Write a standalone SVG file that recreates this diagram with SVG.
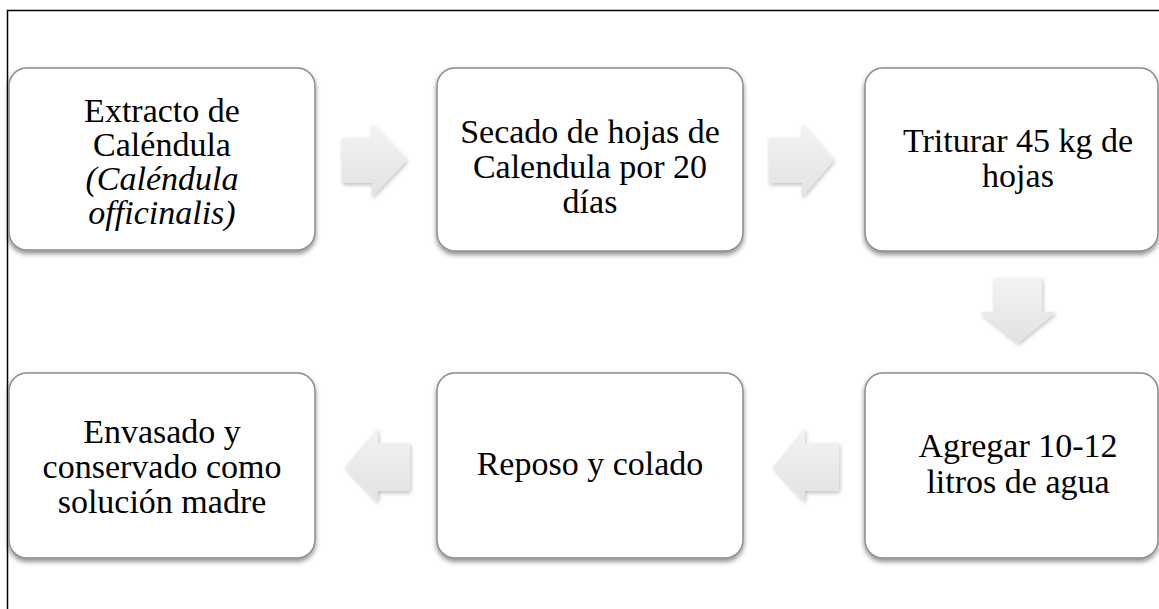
<svg xmlns="http://www.w3.org/2000/svg" width="1159" height="609" viewBox="0 0 1159 609">
<defs>
<filter id="sh" x="-10%" y="-10%" width="120%" height="130%">
<feGaussianBlur in="SourceAlpha" stdDeviation="2.5"/>
<feOffset dx="0" dy="3" result="b"/>
<feComponentTransfer><feFuncA type="linear" slope="0.45"/></feComponentTransfer>
<feMerge><feMergeNode/><feMergeNode in="SourceGraphic"/></feMerge>
</filter>
<filter id="ash" x="-20%" y="-20%" width="150%" height="150%">
<feGaussianBlur in="SourceAlpha" stdDeviation="2"/>
<feOffset dx="1" dy="2" result="b"/>
<feComponentTransfer><feFuncA type="linear" slope="0.25"/></feComponentTransfer>
<feMerge><feMergeNode/><feMergeNode in="SourceGraphic"/></feMerge>
</filter>
<linearGradient id="ag" x1="0" y1="0" x2="0" y2="1">
<stop offset="0" stop-color="#f3f3f3"/>
<stop offset="1" stop-color="#e2e2e2"/>
</linearGradient>
</defs>
<style>
.box{fill:#ffffff;stroke:#8c8c8c;stroke-width:1.5;filter:url(#sh)}
.arr{fill:url(#ag);filter:url(#ash)}
text{font-family:"Liberation Serif","Times New Roman",serif;font-size:34px;fill:#000;text-anchor:middle}
.it{font-style:italic}
</style>
<rect width="1159" height="609" fill="#ffffff"/>
<path d="M7.5 609 V10.5 H1159" fill="none" stroke="#000" stroke-width="1.5"/>

<g id="connectors">
<polygon class="arr" points="342,138 372,138 372,124 407,160 372,197 372,183 342,183"/>
<polygon class="arr" points="769,138 802,138 802,124 834,160 802,197 802,183 769,183"/>
<polygon class="arr" points="994,278 1042,278 1042,312 1056,312 1018,343 980,312 994,312"/>
<polygon class="arr" points="839,443 805,443 805,428 773,467 805,502 805,491 839,491"/>
<polygon class="arr" points="410,443 378,443 378,428 345,467 378,502 378,491 410,491"/>
</g>

<g id="n1">
<rect class="box" x="9" y="68" width="306" height="182" rx="18"/>
<text x="162" y="122">Extracto de</text>
<text x="162" y="156">Caléndula</text>
<text x="162" y="190" class="it">(Caléndula</text>
<text x="162" y="224" class="it">officinalis)</text>
</g>
<g id="n2">
<rect class="box" x="437" y="68" width="306" height="183" rx="18"/>
<text x="590" y="143">Secado de hojas de</text>
<text x="590" y="178">Calendula por 20</text>
<text x="590" y="213">días</text>
</g>
<g id="n3">
<rect class="box" x="865" y="68" width="293" height="183" rx="18"/>
<text x="1018" y="152">Triturar 45 kg de</text>
<text x="1018" y="187">hojas</text>
</g>
<g id="n4">
<rect class="box" x="865" y="373" width="293" height="185" rx="18"/>
<text x="1018" y="457">Agregar 10-12</text>
<text x="1018" y="493">litros de agua</text>
</g>
<g id="n5">
<rect class="box" x="437" y="373" width="306" height="185" rx="18"/>
<text x="590" y="475">Reposo y colado</text>
</g>
<g id="n6">
<rect class="box" x="9" y="373" width="306" height="185" rx="18"/>
<text x="162" y="443">Envasado y</text>
<text x="162" y="478">conservado como</text>
<text x="162" y="513">solución madre</text>
</g>
</svg>
